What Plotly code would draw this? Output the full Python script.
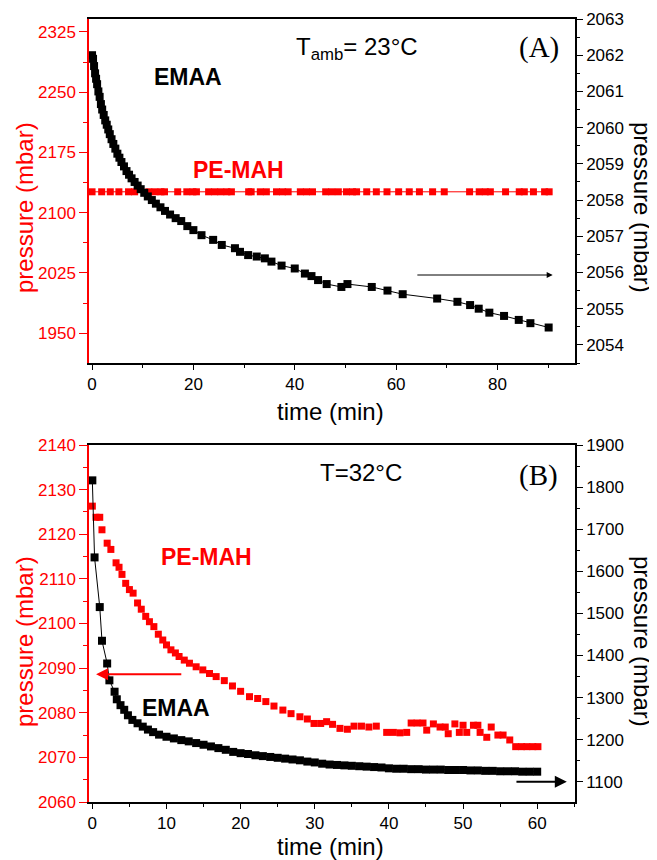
import plotly.graph_objects as go

# ---- panel A (T_amb = 23 C) ----
time_a_pemah = [0, 1.9, 3.6, 5.3, 7.2, 8.4, 11.2, 12.4, 13.6, 14.3, 16.9, 18.7, 19.9, 20.6,
                23.0, 24.2, 25.4, 26.6, 27.5, 30.9, 31.4, 33.2, 34.4, 36.4, 37.6, 38.7, 41.1,
                42.3, 43.5, 46.1, 47.3, 48.6, 50.2, 51.4, 52.2, 54.2, 56.1, 58.2, 60.5, 62.6,
                64.6, 67.2, 69.5, 74.5, 76.4, 77.6, 78.6, 81.6, 84.3, 85.3, 87.1, 89.3, 90.2]
press_a_pemah = [2126, 2126, 2126, 2126, 2126, 2126, 2126, 2126, 2126, 2126, 2126, 2126, 2126,
                 2126, 2126, 2126, 2126, 2126, 2126, 2126, 2126, 2126, 2126, 2126, 2126, 2126,
                 2126, 2126, 2126, 2126, 2126, 2126, 2126, 2126, 2126, 2126, 2126, 2126, 2126,
                 2126, 2126, 2126, 2126, 2126, 2126, 2126, 2126, 2126, 2126, 2126, 2126, 2126,
                 2126]

time_a_emaa = [0, 0.2, 0.4, 0.6, 0.8, 1.0, 1.25, 1.5, 1.75, 2.0, 2.3, 2.6, 2.9, 3.2, 3.5, 3.85, 4.2,
               4.6, 5.0, 5.4, 5.8, 6.3, 6.8, 7.3, 7.8, 8.4, 9.0, 9.6, 10.3, 11.0, 11.8, 12.6, 13.5,
               14.4, 15.4, 16.5, 17.6, 18.8, 20.0, 21.6, 23.9, 25.6, 28.2, 29.2, 30.8, 32.5, 34.1,
               35.4, 37.4, 40.0, 42.0, 43.3, 44.6, 46.3, 49.2, 50.4, 55.2, 58.3, 61.3, 68.1, 72.1,
               74.6, 76.3, 78.4, 81.3, 84.2, 86.5, 90.1]
press_a_emaa = [2062.0, 2061.9, 2061.7, 2061.5, 2061.35, 2061.2, 2061.0, 2060.85, 2060.65, 2060.5,
                2060.35, 2060.2, 2060.08, 2059.95, 2059.82, 2059.68, 2059.55, 2059.42, 2059.28,
                2059.17, 2059.05, 2058.93, 2058.8, 2058.7, 2058.6, 2058.5, 2058.4, 2058.3, 2058.2,
                2058.1, 2058.0, 2057.9, 2057.8, 2057.7, 2057.6, 2057.5, 2057.42, 2057.28, 2057.17,
                2057.03, 2056.9, 2056.76, 2056.67, 2056.57, 2056.48, 2056.44, 2056.39, 2056.3,
                2056.19, 2056.11, 2055.97, 2055.9, 2055.79, 2055.68, 2055.6, 2055.68, 2055.6,
                2055.5, 2055.4, 2055.28, 2055.19, 2055.1, 2055.0, 2054.89, 2054.8, 2054.69,
                2054.6, 2054.48]

# ---- panel B (T = 32 C) ----
time_b_pemah = [0, 0.5, 1.0, 1.3, 2.0, 2.5, 3.2, 3.6, 4.0, 4.5, 5.0, 5.5, 6.1, 6.6, 7.2, 7.7, 8.3,
                8.9, 9.5, 10.0, 10.6, 11.2, 11.7, 12.4, 13.1, 14.0, 14.9, 15.8, 16.7, 17.8, 18.9,
                20.0, 21.2, 22.3, 23.4, 24.5, 25.7, 26.8, 28.0, 29.0, 29.9, 30.8, 31.6, 32.4, 33.4,
                34.4, 35.3, 36.3, 37.3, 38.3, 39.7, 40.6, 41.5, 42.4, 43.0, 43.8, 44.6, 45.1, 46.0,
                46.9, 47.6, 48.0, 48.9, 49.5, 50.0, 50.5, 51.4, 52.0, 52.3, 53.2, 53.8, 54.7, 55.4,
                56.3, 57.1, 57.9, 58.6, 59.4, 60.1]
press_b_pemah = [2126.3, 2123.8, 2123.8, 2121.0, 2118.0, 2116.6, 2113.6, 2112.6, 2111.0, 2109.0,
                 2107.6, 2106.8, 2104.6, 2103.2, 2101.6, 2100.4, 2099.3, 2097.6, 2096.3, 2095.2,
                 2094.1, 2093.4, 2092.6, 2091.8, 2091.1, 2090.3, 2089.6, 2088.8, 2088.1, 2087.2,
                 2086.0, 2084.8, 2083.6, 2083.2, 2082.5, 2081.5, 2080.6, 2079.8, 2079.1, 2078.6,
                 2077.6, 2077.6, 2078.0, 2077.4, 2076.5, 2076.3, 2077.0, 2077.0, 2076.8, 2077.0,
                 2075.6, 2075.6, 2075.5, 2075.6, 2077.7, 2077.7, 2077.7, 2076.1, 2077.5, 2076.8,
                 2076.8, 2075.3, 2077.5, 2075.6, 2077.2, 2075.6, 2077.2, 2077.2, 2075.6, 2074.5,
                 2076.8, 2075.0, 2075.0, 2073.9, 2072.4, 2072.4, 2072.4, 2072.4, 2072.4]

time_b_emaa = [0, 0.3, 1.0, 1.3, 2.0, 2.3, 3.0, 3.3, 3.8, 4.3, 4.8, 5.4, 6.1, 6.8, 7.5, 8.2, 9.0,
               10.0, 11.0, 12.0, 13.0, 14.0, 15.0, 16.0, 17.0, 18.0, 19.0, 20.0, 21.0, 22.0, 23.0,
               24.0, 25.0, 26.0, 27.0, 28.0, 29.0, 30.0, 31.0, 32.0, 33.0, 34.0, 35.0, 36.0, 37.0,
               38.0, 39.0, 40.0, 41.0, 42.0, 43.0, 44.0, 45.0, 46.0, 47.0, 48.0, 49.0, 50.0, 51.0,
               52.0, 53.0, 54.0, 55.0, 56.0, 57.0, 58.0, 59.0, 60.0]
press_b_emaa = [1816, 1633, 1515, 1435, 1381, 1341, 1314, 1296, 1282, 1271, 1258, 1247, 1239, 1231,
                1224, 1218, 1212, 1207, 1203, 1199, 1196, 1192, 1188, 1184, 1180, 1176, 1171, 1168,
                1166, 1163, 1161, 1159, 1157, 1155, 1153, 1151, 1148, 1146, 1143, 1141, 1140, 1139,
                1138, 1137, 1136, 1135, 1134, 1132, 1131, 1131, 1130, 1130, 1129, 1129, 1129, 1128,
                1128, 1128, 1127, 1127, 1126, 1126, 1125, 1125, 1125, 1124, 1124, 1124]

RED = "#ff0000"
FONT = "Liberation Sans, Arial, sans-serif"

# the page body has an 8px margin, so the figure is 8px smaller and everything is shifted
OFF = 8
W, H = 657 - OFF, 860 - OFF
# plot box in reference pixels: left 89, right 575, top 19, bottom 802
ML, MT = 89 - OFF, 19 - OFF
MR, MB = W - (575 - OFF), H - (802 - OFF)


def px(x, y):
    # reference pixel position -> paper coordinates (for text placement only)
    x, y = x - OFF, y - OFF
    return (x - ML) / (W - ML - MR), (H - MB - y) / (H - MT - MB)


fig = go.Figure()

# top panel
fig.add_trace(go.Scatter(x=time_a_pemah, y=press_a_pemah, xaxis="x", yaxis="y",
                         mode="lines+markers", line=dict(color=RED, width=1),
                         marker=dict(symbol="square", size=7, color=RED), showlegend=False))
fig.add_trace(go.Scatter(x=time_a_emaa, y=press_a_emaa, xaxis="x", yaxis="y2",
                         mode="lines+markers", line=dict(color="black", width=1),
                         marker=dict(symbol="square", size=8, color="black"), showlegend=False))
# bottom panel
fig.add_trace(go.Scatter(x=time_b_pemah, y=press_b_pemah, xaxis="x2", yaxis="y3",
                         mode="markers",
                         marker=dict(symbol="square", size=7, color=RED), showlegend=False))
fig.add_trace(go.Scatter(x=time_b_emaa, y=press_b_emaa, xaxis="x2", yaxis="y4",
                         mode="lines+markers", line=dict(color="black", width=1),
                         marker=dict(symbol="square", size=8, color="black"), showlegend=False))

top_dom = [px(0, 363)[1], 1.0]
bot_dom = [0.0, px(0, 445)[1]]

xcommon = dict(showgrid=False, zeroline=False, showline=True, linecolor="black", linewidth=1.5,
               mirror=True, ticks="outside", ticklen=5, tickwidth=1, tickcolor="black",
               tickfont=dict(size=17, color="black"), automargin=False)
ycommon = dict(showgrid=False, zeroline=False, showline=True, linewidth=1.5,
               ticks="outside", ticklen=8, tickwidth=1, automargin=False)

fig.update_layout(
    width=W, height=H,
    paper_bgcolor="white", plot_bgcolor="white",
    font=dict(family=FONT, color="black"),
    margin=dict(l=ML, r=MR, t=MT, b=MB),
    xaxis=dict(xcommon, domain=[0, 1], anchor="y", range=[-0.6, 95.3],
               tickvals=[0, 20, 40, 60, 80],
               minor=dict(ticks="outside", ticklen=3, dtick=10, tick0=0, tickcolor="black")),
    yaxis=dict(ycommon, domain=top_dom, anchor="x", range=[1913, 2341],
               tick0=1950, dtick=75, linecolor=RED, tickcolor=RED,
               tickfont=dict(size=17, color=RED),
               minor=dict(ticks="outside", ticklen=4, dtick=37.5, tick0=1950, tickcolor=RED)),
    yaxis2=dict(ycommon, overlaying="y", side="right", anchor="x", range=[2053.5, 2063],
                dtick=1, ticklen=6, linecolor="black", tickcolor="black",
                tickfont=dict(size=17, color="black"),
                minor=dict(ticks="outside", ticklen=3, dtick=0.5, tickcolor="black")),
    xaxis2=dict(xcommon, domain=[0, 1], anchor="y3", range=[-0.45, 65.1],
                tick0=0, dtick=10,
                minor=dict(ticks="outside", ticklen=3, dtick=5, tick0=0, tickcolor="black")),
    yaxis3=dict(ycommon, domain=bot_dom, anchor="x2", range=[2060, 2140],
                dtick=10, linecolor=RED, tickcolor=RED,
                tickfont=dict(size=17, color=RED),
                minor=dict(ticks="outside", ticklen=4, dtick=5, tickcolor=RED)),
    yaxis4=dict(ycommon, overlaying="y3", side="right", anchor="x2", range=[1052, 1900],
                dtick=100, ticklen=6, linecolor="black", tickcolor="black",
                tickfont=dict(size=17, color="black"),
                minor=dict(ticks="outside", ticklen=3, dtick=50, tickcolor="black")),
)

bold = dict(family=FONT, size=23)
plain = dict(family=FONT, size=24, color="black")
serif = dict(family="Liberation Serif, Times New Roman, serif", size=29, color="black")


def label(x, y, text, font, angle=0):
    px_x, px_y = px(x, y)
    return dict(xref="paper", yref="paper", x=px_x, y=px_y, xanchor="center", yanchor="middle",
                text=text, font=font, textangle=angle, showarrow=False)


ann = [
    # panel A
    label(188, 77, "<b>EMAA</b>", dict(bold, color="black")),
    label(238, 170, "<b>PE-MAH</b>", dict(bold, color=RED)),
    label(357, 48, "T<sub>amb</sub>= 23°C", plain),
    label(539, 47, "(A)", serif),
    label(330, 411, "time (min)", plain),
    label(24, 208, "pressure (mbar)", dict(plain, color=RED), -90),
    label(643, 207, "pressure (mbar)", plain, 90),
    # panel B
    label(361, 472, "T=32°C", plain),
    label(538, 475, "(B)", serif),
    label(206, 557, "<b>PE-MAH</b>", dict(bold, color=RED)),
    label(176, 708, "<b>EMAA</b>", dict(bold, color="black")),
    label(330, 846, "time (min)", plain),
    label(24, 642, "pressure (mbar)", dict(plain, color=RED), -90),
    label(643, 641, "pressure (mbar)", plain, 90),
    # arrows
    dict(xref="x", yref="y2", axref="x", ayref="y2", x=90.9, y=2055.93, ax=63.9, ay=2055.93,
         text="", showarrow=True, arrowhead=2, arrowsize=1.2, arrowwidth=1, arrowcolor="black"),
    dict(xref="x2", yref="y3", axref="x2", ayref="y3", x=0.5, y=2088.6, ax=12.2, ay=2088.6,
         text="", showarrow=True, arrowhead=2, arrowsize=1.2, arrowwidth=2, arrowcolor=RED),
    dict(xref="x2", yref="y4", axref="x2", ayref="y4", x=64.0, y=1100, ax=57.0, ay=1100,
         text="", showarrow=True, arrowhead=2, arrowsize=1.2, arrowwidth=2, arrowcolor="black"),
]
fig.update_layout(annotations=ann)

fig.write_html("out.html")
